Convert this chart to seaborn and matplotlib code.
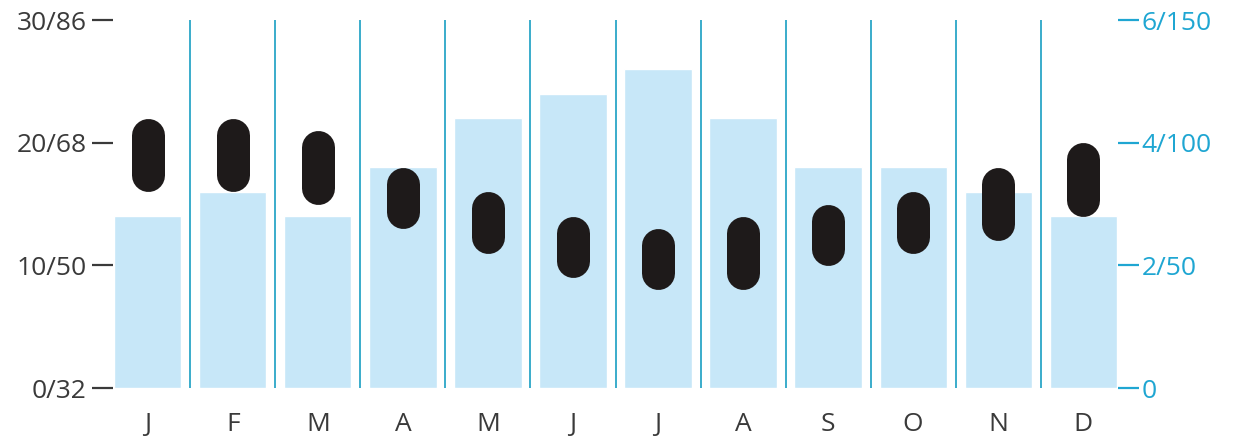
import numpy as np
import pandas as pd
import seaborn as sns
import matplotlib.pyplot as plt

# ---------------------------------------
# Data
# ---------------------------------------
months = ["Jan", "Feb", "Mar", "Apr", "May", "Jun",
          "Jul", "Aug", "Sep", "Oct", "Nov", "Dec"]
month_letters = ["J", "F", "M", "A", "M", "J", "J", "A", "S", "O", "N", "D"]
rain_in = [2.8, 3.2, 2.8, 3.6, 4.4, 4.8, 5.2, 4.4, 3.6, 3.6, 3.2, 2.8]
temp_hi = [22, 22, 21, 18, 16, 14, 13, 14, 15, 16, 18, 20]
temp_lo = [16, 16, 15, 13, 11, 9, 8, 8, 10, 11, 12, 14]

temp_ticks = [0, 10, 20, 30]
temp_labels = ["0/32", "10/50", "20/68", "30/86"]
rain_ticks = [0, 2, 4, 6]
rain_labels = ["0", "2/50", "4/100", "6/150"]

df = pd.DataFrame({"month": months, "rain": rain_in,
                   "hi": temp_hi, "lo": temp_lo})

BAR = "#c7e7f8"
SEP = "#3aaccb"
CYAN = "#1fa6d2"
DARK = "#3a3a3a"
CAPS = "#1e1a1a"

sns.set_theme(style="white")
plt.rcParams["font.family"] = ["Open Sans", "DejaVu Sans"]

fig = plt.figure(figsize=(12.52, 4.4), dpi=100)
ax = fig.add_axes([113 / 1252, 52 / 440, 1005 / 1252, 368 / 440])
ax2 = ax.twinx()

# ---------------------------------------
# Rainfall bars (right axis)
# ---------------------------------------
sns.barplot(data=df, x="month", y="rain", ax=ax2, color=BAR,
            saturation=1, width=0.79, order=months)
ax2.set_ylim(0, 6)
ax2.set_yticks(rain_ticks)
ax2.set_yticklabels(rain_labels)
ax2.set_ylabel("")

# temp axis drawn above the bars
ax.set_zorder(ax2.get_zorder() + 1)
ax.patch.set_visible(False)

ax.set_xlim(-0.41, 11.41)
ax.set_ylim(0, 30)
ax2.set_xlim(-0.41, 11.41)

# month separators
ax.vlines(np.arange(len(months) - 1) + 0.5, 0, 30, color=SEP, lw=1.4, zorder=1)

# ---------------------------------------
# Temperature capsules (left axis)
# ---------------------------------------
cap_px = 33
lw_pt = cap_px * 72 / fig.dpi
px_per_deg = ax.bbox.height / 30
r = (cap_px / 2) / px_per_deg
x = np.arange(len(months))
caps = ax.vlines(x, df["lo"] + r, df["hi"] - r, color=CAPS,
                 lw=lw_pt, zorder=3)
caps.set_capstyle("round")

ax.set_xticks(x)
ax.set_xticklabels(month_letters)
ax.set_yticks(temp_ticks)
ax.set_yticklabels(temp_labels)

ax.tick_params(axis="y", left=True, length=15, width=1.6, color=DARK,
               labelsize=19, labelcolor=DARK, pad=4)
ax.tick_params(axis="x", bottom=False, labelsize=19, labelcolor=DARK, pad=11)
ax2.tick_params(axis="y", right=True, length=15, width=1.6, color=CYAN,
                labelsize=19, labelcolor=CYAN, pad=2)
ax2.tick_params(axis="x", bottom=False, labelbottom=False)

for a in (ax, ax2):
    for s in a.spines.values():
        s.set_visible(False)

fig.savefig("out.png", dpi=100)
